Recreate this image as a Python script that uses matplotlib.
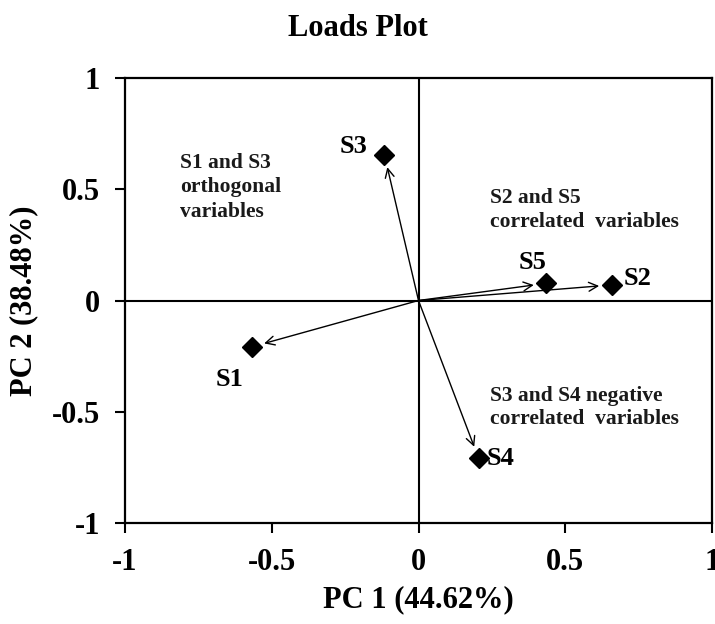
import matplotlib
matplotlib.use("Agg")
import matplotlib.pyplot as plt

# Data
labels = ["S1", "S2", "S3", "S4", "S5"]
pc1 = [-0.567, 0.658, -0.116, 0.205, 0.435]
pc2 = [-0.208, 0.070, 0.654, -0.710, 0.077]
label_x = [-0.644, 0.698, -0.173, 0.232, 0.388]
label_y = [-0.357, 0.100, 0.690, -0.710, 0.173]
label_ha = ["center", "left", "right", "left", "center"]

notes = ["S1 and S3\northogonal\nvariables",
         "S2 and S5\ncorrelated  variables",
         "S3 and S4 negative\ncorrelated  variables"]
note_x = [-0.811, 0.242, 0.242]
note_y = [0.510, 0.407, -0.479]
note_ls = [1.3, 1.3, 1.2]

xticks = [-1, -0.5, 0, 0.5, 1]
yticks = [-1, -0.5, 0, 0.5, 1]
tick_labels = ["-1", "-0.5", "0", "0.5", "1"]

plt.rcParams['font.family'] = ['Liberation Serif', 'DejaVu Serif']
plt.rcParams['font.weight'] = 'bold'

fig = plt.figure(figsize=(7.15, 6.24), dpi=100)
ax = fig.add_axes([125/715, 1-523/624, (712-125)/715, (523-78)/624])

ax.set_xlim(-1, 1)
ax.set_ylim(-1, 1)
ax.axhline(0, color='black', lw=1.5, zorder=1)
ax.axvline(0, color='black', lw=1.5, zorder=1)

for x, y in zip(pc1, pc2):
    ax.annotate("", xy=(x, y), xytext=(0, 0),
                arrowprops=dict(arrowstyle='->', color='black', lw=1.0,
                                mutation_scale=16, shrinkA=0, shrinkB=9),
                zorder=2)

ax.plot(pc1, pc2, linestyle='none', marker='D', markersize=10.5,
        color='black', zorder=3)

for lab, x, y, ha in zip(labels, label_x, label_y, label_ha):
    ax.text(x, y, lab, ha=ha, va='center', fontsize=19, fontweight='bold')

for t, x, y, ls in zip(notes, note_x, note_y, note_ls):
    ax.text(x, y, t, ha='left', va='center', fontsize=15.5,
            fontweight='bold', linespacing=ls, color='#1a1a1a')

ax.set_xticks(xticks)
ax.set_xticklabels(tick_labels)
ax.set_yticks(yticks)
ax.set_yticklabels(tick_labels)
ax.tick_params(direction='out', length=7, width=1.5, labelsize=22, pad=11)
for lbl in ax.get_xticklabels() + ax.get_yticklabels():
    lbl.set_fontweight('bold')
for s in ax.spines.values():
    s.set_linewidth(1.6)

ax.set_xlabel("PC 1 (44.62%)", fontsize=22, fontweight='bold', labelpad=6)
ax.set_ylabel("PC 2 (38.48%)", fontsize=22, fontweight='bold', labelpad=10)

fig.text(0.5, 1-28/624, "Loads Plot", ha='center', va='center',
         fontsize=22, fontweight='bold')

fig.savefig("out.png", dpi=100, facecolor='white')
